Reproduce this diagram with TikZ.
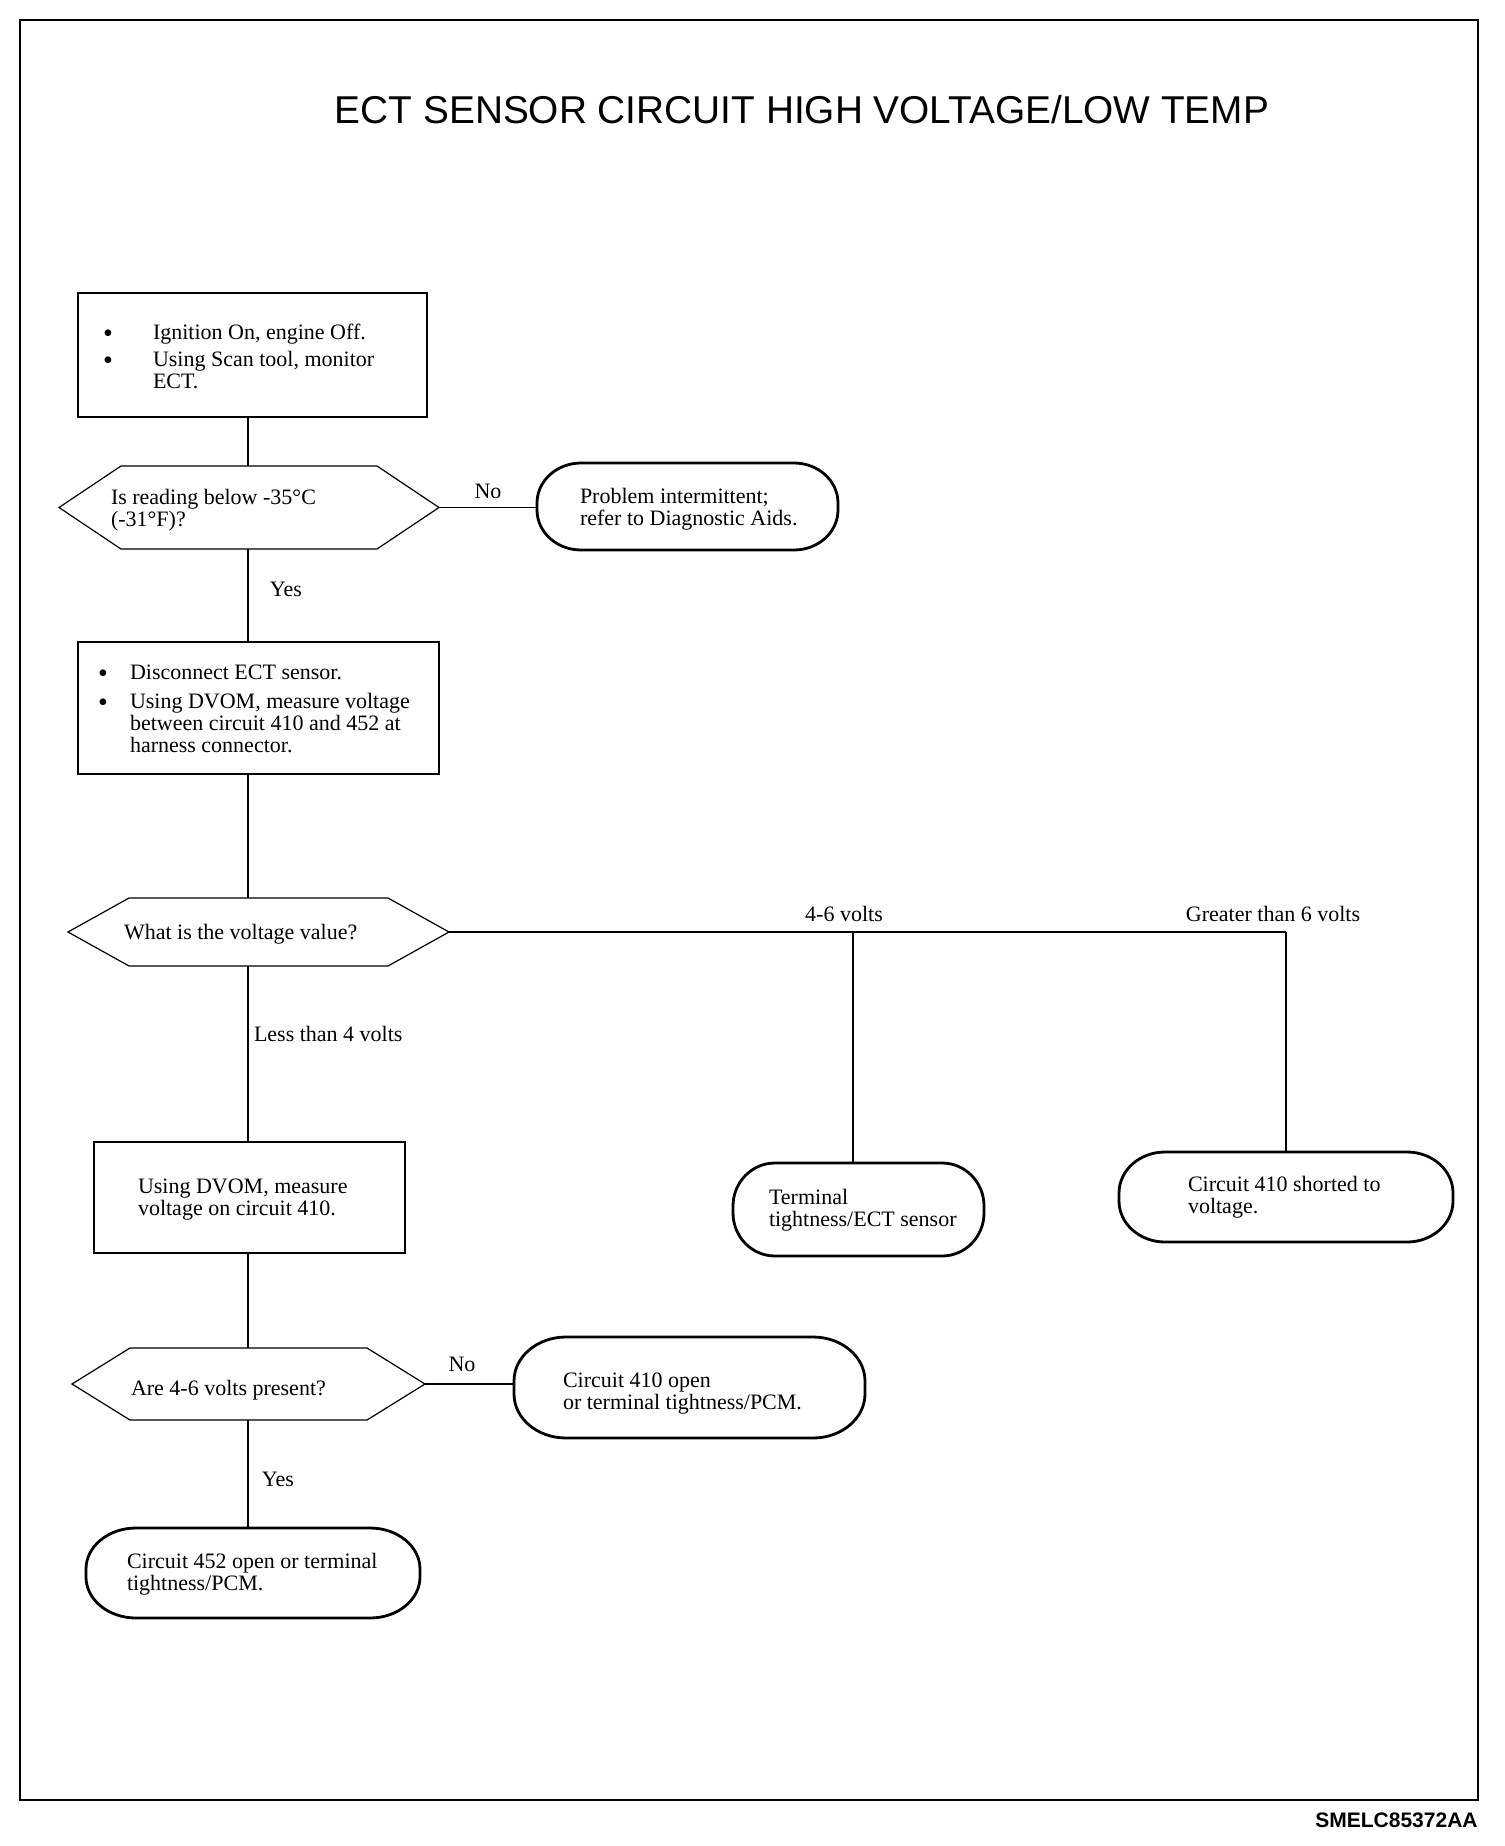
\documentclass[tikz,border=0pt]{standalone}
\usepackage{fontspec}
\setmainfont{Liberation Serif}
\newfontfamily\sansfam{Liberation Sans}
\usetikzlibrary{calc,fit}
\newcommand\bfnt{\fontsize{11}{11}\selectfont}
\newcommand\bul{\raisebox{-1.5pt}{\fontsize{14}{11}\selectfont\textbullet}}
\newcommand\hexpath[2]{\draw[boxline] (#1.west) -- ($(#1.north west)+(#2,0)$) -- ($(#1.north east)+(-#2,0)$) -- (#1.east) -- ($(#1.south east)+(-#2,0)$) -- ($(#1.south west)+(#2,0)$) -- cycle;}
% #1 node, #2 x radius, #3 y radius
\newcommand\termpath[3]{\draw[termline] ($(#1.north west)+(#2,0)$) -- ($(#1.north east)+(-#2,0)$)
  arc[start angle=90,end angle=0,x radius=#2,y radius=#3]
  -- ($(#1.south east)+(0,#3)$)
  arc[start angle=0,end angle=-90,x radius=#2,y radius=#3]
  -- ($(#1.south west)+(#2,0)$)
  arc[start angle=270,end angle=180,x radius=#2,y radius=#3]
  -- ($(#1.north west)+(0,-#3)$)
  arc[start angle=180,end angle=90,x radius=#2,y radius=#3] -- cycle;}
\begin{document}
\begin{tikzpicture}[x=0.5pt,y=0.5pt,
  boxline/.style={line width=0.6pt},
  termline/.style={line width=1.4pt},
  conn/.style={line width=0.55pt},
  shapebox/.style={inner sep=0pt, outer sep=0pt},
  txt/.style={inner sep=0pt, outer sep=0pt, font=\bfnt, anchor=base west},
  lbl/.style={inner sep=0pt, outer sep=0pt, font=\bfnt, anchor=base}]
\useasboundingbox (0,0) rectangle (1504,-1846);
\fill[white] (0,0) rectangle (1504,-1846);
\draw[line width=1.2pt] (20,-20) rectangle (1478,-1800);

\node[inner sep=0pt, font=\sansfam\fontsize{19.4}{22}\selectfont, anchor=base] (title) at (802,-123.5) {ECT SENSOR CIRCUIT HIGH VOLTAGE/LOW TEMP};
\node[inner sep=0pt, font=\sansfam\bfseries\fontsize{10.5}{12}\selectfont, anchor=base east] (code) at (1478,-1827.5) {SMELC85372AA};

\coordinate (tr) at (248,0);

% box 1
\coordinate (b1a) at (78,-293); \coordinate (b1b) at (427,-417);
\node[shapebox, draw, boxline, fit=(b1a)(b1b)] (b1) {};
\node[txt] (b1t) at (103,-339) {\begin{tabular}[t]{@{}p{25pt}@{}l@{}}\bul & Ignition On, engine Off.\\[2.5pt] \bul & Using Scan tool, monitor\\ & ECT.\end{tabular}};

% hexagon 1
\coordinate (h1a) at (59,-466); \coordinate (h1b) at (439,-549);
\node[shapebox, fit=(h1a)(h1b)] (h1) {};
\hexpath{h1}{62}
\node[txt] (h1t) at (111,-504) {\begin{tabular}[t]{@{}l@{}}Is reading below -35°C\\(-31°F)?\end{tabular}};

% terminal 1
\coordinate (t1a) at (537,-463); \coordinate (t1b) at (838,-550);
\node[shapebox, fit=(t1a)(t1b)] (t1) {};
\termpath{t1}{44}{40}
\node[txt] (t1t) at (580,-503) {\begin{tabular}[t]{@{}l@{}}Problem intermittent;\\refer to Diagnostic Aids.\end{tabular}};

% box 2
\coordinate (b2a) at (78,-642); \coordinate (b2b) at (439,-774);
\node[shapebox, draw, boxline, fit=(b2a)(b2b)] (b2) {};
\node[txt] (b2t) at (98,-679) {\begin{tabular}[t]{@{}p{16pt}@{}l@{}}\bul & Disconnect ECT sensor.\\[3.5pt] \bul & Using DVOM, measure voltage\\ & between circuit 410 and 452 at\\ & harness connector.\end{tabular}};

% hexagon 2
\coordinate (h2a) at (68,-898); \coordinate (h2b) at (449,-966);
\node[shapebox, fit=(h2a)(h2b)] (h2) {};
\hexpath{h2}{61}
\node[txt] (h2t) at (124,-939) {What is the voltage value?};

% junctions
\coordinate (j1) at (853,-932);
\coordinate (j2) at (1286,-932);

% terminal 2
\coordinate (t2a) at (733,-1163); \coordinate (t2b) at (984,-1256);
\node[shapebox, fit=(t2a)(t2b)] (t2) {};
\termpath{t2}{42}{43}
\node[txt] (t2t) at (769,-1204) {\begin{tabular}[t]{@{}l@{}}Terminal\\tightness/ECT sensor\end{tabular}};

% terminal 3
\coordinate (t3a) at (1119,-1152); \coordinate (t3b) at (1453,-1242);
\node[shapebox, fit=(t3a)(t3b)] (t3) {};
\termpath{t3}{46}{41}
\node[txt] (t3t) at (1188,-1191) {\begin{tabular}[t]{@{}l@{}}Circuit 410 shorted to\\voltage.\end{tabular}};

% box 3
\coordinate (b3a) at (94,-1142); \coordinate (b3b) at (405,-1253);
\node[shapebox, draw, boxline, fit=(b3a)(b3b)] (b3) {};
\node[txt] (b3t) at (138,-1193) {\begin{tabular}[t]{@{}l@{}}Using DVOM, measure\\voltage on circuit 410.\end{tabular}};

% hexagon 3
\coordinate (h3a) at (72,-1348); \coordinate (h3b) at (425,-1420);
\node[shapebox, fit=(h3a)(h3b)] (h3) {};
\hexpath{h3}{58}
\node[txt] (h3t) at (131,-1395) {Are 4-6 volts present?};

% terminal 4
\coordinate (t4a) at (514,-1337); \coordinate (t4b) at (865,-1438);
\node[shapebox, fit=(t4a)(t4b)] (t4) {};
\termpath{t4}{52}{44}
\node[txt] (t4t) at (563,-1387) {\begin{tabular}[t]{@{}l@{}}Circuit 410 open\\or terminal tightness/PCM.\end{tabular}};

% terminal 5
\coordinate (t5a) at (86,-1528); \coordinate (t5b) at (420,-1618);
\node[shapebox, fit=(t5a)(t5b)] (t5) {};
\termpath{t5}{50}{41}
\node[txt] (t5t) at (127,-1568) {\begin{tabular}[t]{@{}l@{}}Circuit 452 open or terminal\\tightness/PCM.\end{tabular}};

% connectors
\draw[conn] (b1.south -| tr) -- (h1.north -| tr);
\draw[conn] (h1.south -| tr) -- (b2.north -| tr);
\draw[conn] (h1.east) -- (h1.east -| t1.west);
\draw[conn] (b2.south -| tr) -- (h2.north -| tr);
\draw[conn] (h2.south -| tr) -- (b3.north -| tr);
\draw[conn] (h2.east) -- (j2);
\draw[conn] (j1) -- (j1 |- t2.north);
\draw[conn] (j2) -- (j2 |- t3.north);
\draw[conn] (b3.south -| tr) -- (h3.north -| tr);
\draw[conn] (h3.east) -- (h3.east -| t4.west);
\draw[conn] (h3.south -| tr) -- (t5.north -| tr);

% labels
\node[lbl] (l1) at (488,-498) {No};
\node[lbl] (l2) at (286,-596) {Yes};
\node[lbl] (l3) at (844,-921) {4-6 volts};
\node[lbl] (l4) at (1273,-921) {Greater than 6 volts};
\node[txt] (l5) at (254,-1041) {Less than 4 volts};
\node[lbl] (l6) at (462,-1371) {No};
\node[lbl] (l7) at (278,-1486) {Yes};
\end{tikzpicture}
\end{document}
